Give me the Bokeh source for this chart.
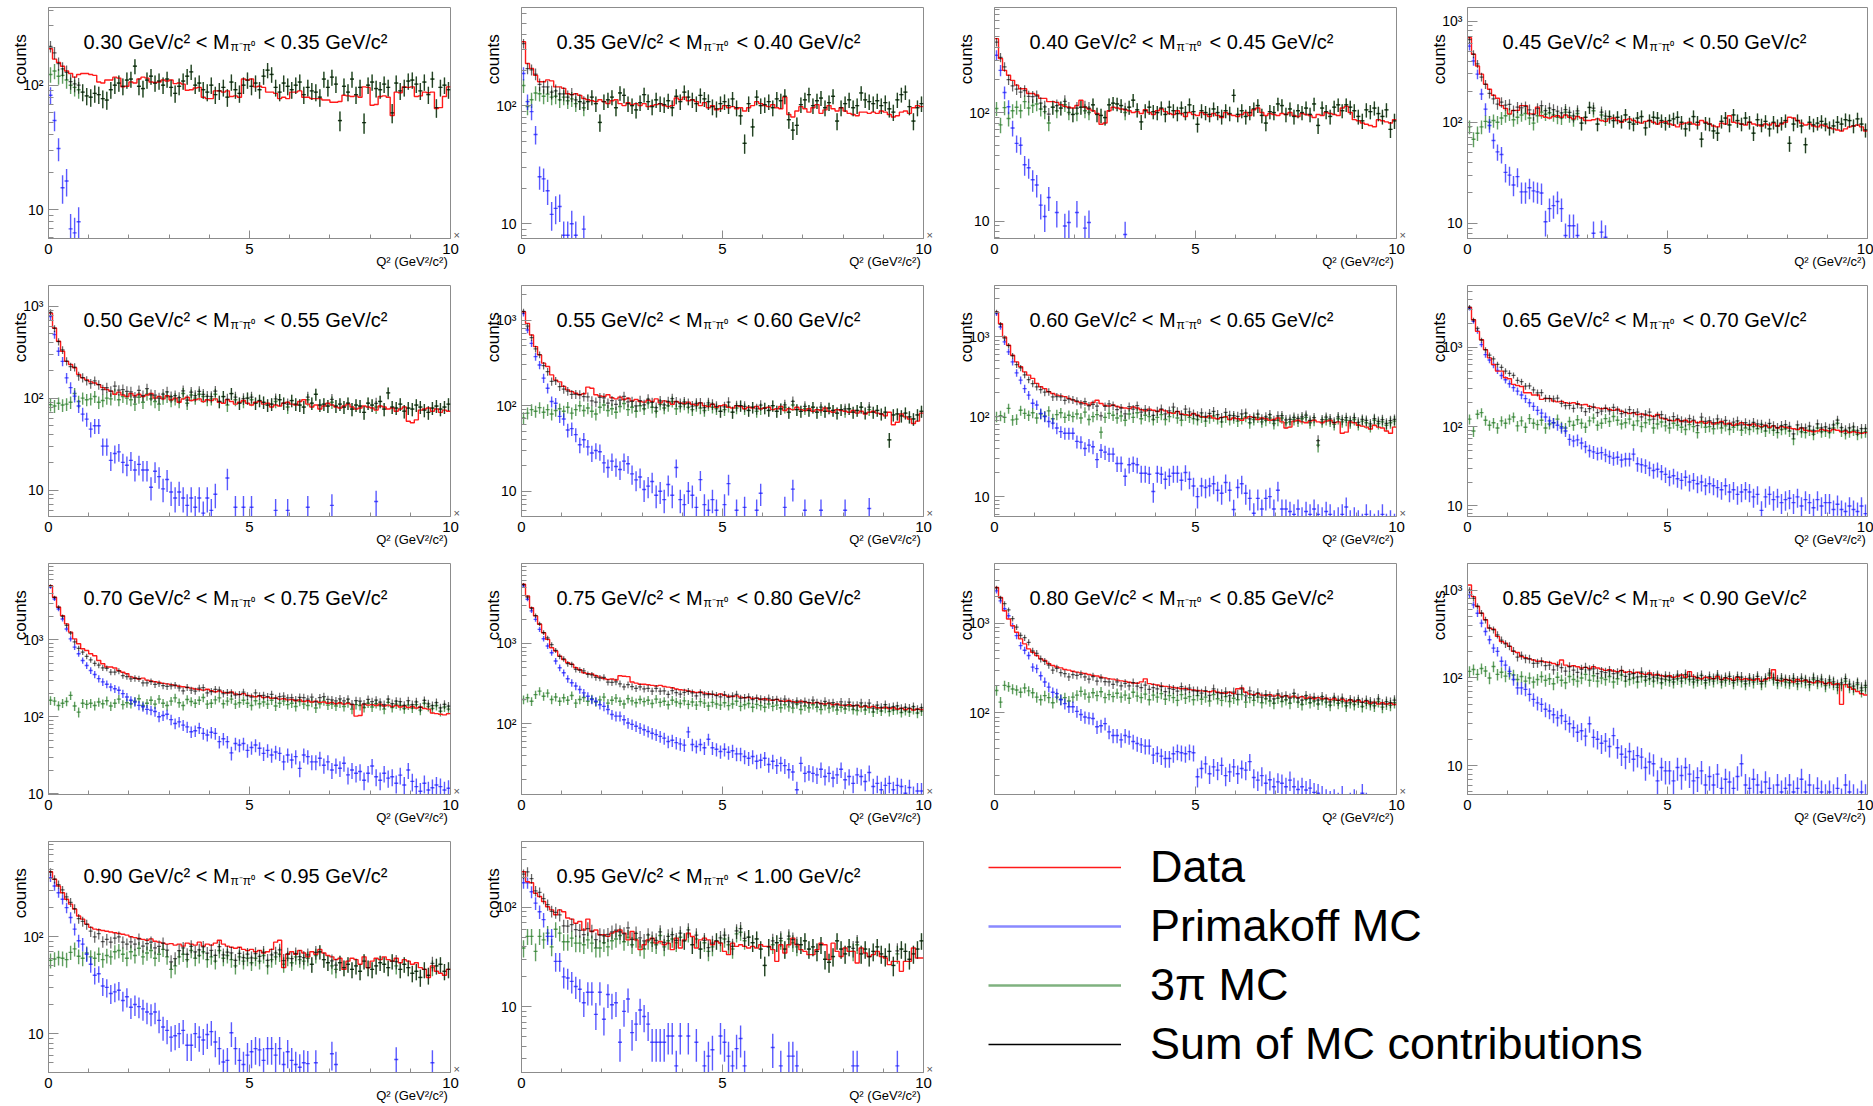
import numpy as np
from bokeh.plotting import figure
from bokeh.models import FixedTicker, Label, Legend, LegendItem, Range1d, Title
from bokeh.layouts import column, row
from bokeh.embed import file_html
from bokeh.resources import INLINE

FONT = "Liberation Sans"

MASS_EDGES = ["0.30", "0.35", "0.40", "0.45", "0.50", "0.55", "0.60", "0.65",
              "0.70", "0.75", "0.80", "0.85", "0.90", "0.95", "1.00"]
Y_LOW = [5.86, 7.5, 6.9, 7.1, 5.15, 5.08, 5.64, 7.36, 9.8, 13.1, 12.3, 4.68, 3.97, 2.19]
Y_HIGH = [421, 677, 930, 1362, 1679, 2535, 4365, 5998, 9800, 9900, 4645, 2023, 962, 457]
Y_TICKS = [1, 10, 100, 1000, 10000]
Y_TICK_TEXT = {1: "1", 10: "10", 100: "10\u00b2", 1000: "10\u00b3", 10000: "10\u2074"}
X_TICKS = [0, 5, 10]
X_MINOR = [1, 2, 3, 4, 6, 7, 8, 9]
X_TITLE = "Q\u00b2 (GeV\u00b2/c\u00b2)"
Y_TITLE = "counts"
LEGEND_LABELS = ["Data", "Primakoff MC", "3\u03c0 MC", "Sum of MC contributions"]

# ---- 0.30 - 0.35
DATA_030 = [196,162,152,142,130,124,116,122,124,124,
            122,120,106,104,110,110,116,114,97,98,
            106,104,112,116,114,106,105,106,110,108,
            110,103,104,102,91,92,95,96,80,78,
            78,90,90,88,90,81,82,80,112,110,
            112,97,98,96,88,88,86,78,80,78,
            88,88,90,80,80,78,78,78,76,76,
            73,73,74,83,82,81,82,80,97,96,
            69,70,81,82,80,57,88,87,97,96,
            97,81,82,88,87,88,65,66,81,97]
TPI_030 = [122,130,118,120,110,100,96,92,88,82,
           80,86,84,78,76,92,100,104,98,110,
           112,142,98,94,110,118,104,108,100,112,
           96,86,98,108,118,128,100,104,92,88,
           100,84,90,96,80,106,92,86,100,110,
           98,104,92,118,132,122,96,88,104,98,
           92,100,106,84,96,90,88,80,112,96,
           116,102,52,98,88,112,84,96,50,100,
           106,94,92,102,96,60,104,90,96,108,
           110,102,90,106,84,112,66,96,100,92]
PRIM_030 = [83,52,31,15,17,7,6.5,8]

# ---- 0.35 - 0.40
DATA_035 = [347,227,206,181,159,159,165,162,144,144,
            140,126,124,126,122,115,112,110,108,112,
            108,104,110,112,104,100,106,102,104,100,
            104,98,100,102,104,100,98,100,116,112,
            118,110,112,108,100,106,96,100,92,94,
            100,96,98,94,96,90,96,100,108,104,
            100,98,102,96,94,118,84,80,90,98,
            94,88,96,102,86,92,100,94,90,96,
            90,86,84,82,88,88,86,88,86,90,
            88,84,80,82,88,90,86,96,100,98]
TPI_035 = [148,98,112,128,126,120,125,118,120,112,
           118,110,114,104,108,96,108,118,104,72,
           108,112,118,96,128,122,104,100,92,106,
           124,108,98,112,104,102,110,96,120,108,
           130,118,112,104,122,114,108,98,94,104,
           108,100,114,96,82,48,104,66,118,100,
           102,108,96,114,110,120,76,62,68,102,
           112,124,100,110,116,96,106,120,74,96,
           104,112,96,100,128,112,108,104,110,100,
           106,94,88,112,124,130,98,74,96,104]
PRIM_035 = [187,108,89,57,25,24,19,12,13.5,14,8,8,10,8,0,9]

# ---- 0.40 - 0.45
DATA_040 = [480,315,245,221,198,179,166,166,150,150,
            145,135,135,126,126,124,118,114,112,110,
            116,130,112,108,104,98,78,80,104,112,
            110,108,106,104,100,102,98,106,100,96,
            104,108,102,98,96,104,98,92,100,96,
            94,100,96,92,98,94,90,100,96,94,
            92,96,100,94,106,110,100,94,98,96,
            94,98,96,100,94,92,98,96,94,90,
            96,94,100,98,96,94,110,114,100,86,
            84,80,78,76,74,86,84,82,80,86]
TPI_040 = [109,77,111,88,104,112,104,126,110,116,
           120,108,102,80,112,104,110,118,100,96,
           98,112,104,100,118,96,94,90,118,122,
           120,116,100,112,130,106,82,104,112,102,
           100,110,96,112,104,98,110,100,118,102,
           78,104,100,96,108,100,92,104,98,144,
           96,104,92,100,108,116,94,80,102,100,
           120,116,96,108,92,104,100,110,96,120,
           76,110,102,92,112,118,104,118,112,104,
           92,84,106,102,110,98,92,106,70,84]
PRIM_040 = [338,245,153,113,72,52,50,33,31,24,21.5,14,11,16.5,0,12,0,9,9.7,0,
            12,0,8.6,9.7,0,0,0,0,0,0,0,0,7.5]

# ---- 0.45 - 0.50
DATA_045 = [685,470,360,299,238,212,185,173,146,137,
            121,131,131,146,146,121,121,141,116,112,
            110,114,116,112,118,112,108,114,110,104,
            104,106,108,104,102,108,110,104,100,106,
            108,104,100,98,102,104,100,96,100,102,
            96,94,90,96,98,100,96,94,104,100,
            96,92,90,98,96,116,100,98,96,94,
            100,96,94,92,96,94,98,92,96,100,
            112,110,104,98,94,96,92,90,94,92,
            88,86,84,82,86,90,92,94,90,82]
TPI_045 = [90,68,78,90,102,100,104,100,110,116,
           120,106,112,118,122,110,98,116,126,120,
           124,118,112,110,126,116,106,122,98,112,
           140,130,96,118,108,114,104,112,102,118,
           100,96,110,114,88,104,112,110,104,98,
           104,108,112,100,86,96,114,100,68,98,
           96,82,78,102,110,94,118,104,96,110,
           100,78,106,94,102,86,100,92,98,104,
           62,96,104,92,60,100,94,98,102,96,
           88,92,100,96,106,104,92,108,96,84]
PRIM_045 = [566,403,299,190,135,93,66,51,48,32,30,24,29,20.5,20.5,22.5,21,20.5,20,10.4,
            14,15,16.5,14,7.6,9.5,9.5,7.6,0,0,0,8,0,8.2,7.3]

# ---- 0.50 - 0.55
DATA_050 = [841,579,415,323,251,232,214,181,166,158,
            150,146,140,130,124,119,110,116,108,104,
            112,106,110,104,108,112,100,104,98,106,
            96,100,90,98,102,94,96,98,92,96,
            94,98,90,88,96,92,86,90,94,88,
            84,90,92,86,88,80,84,82,88,90,
            86,84,92,96,86,80,84,76,82,88,
            84,80,78,82,86,80,76,78,82,80,
            78,74,82,80,76,78,72,76,80,56,
            54,58,74,76,78,72,76,70,74,72]
TPI_050 = [85,82,88,84,86,90,112,92,100,96,
           98,104,90,94,100,98,110,96,104,100,
           96,86,102,90,110,98,92,86,100,104,
           94,98,92,112,88,108,100,110,104,96,
           98,110,92,104,84,112,96,88,92,100,
           96,88,94,90,84,86,92,96,88,80,
           94,86,84,80,96,88,110,84,86,82,
           90,82,86,80,88,76,84,82,70,88,
           84,80,92,76,114,80,78,86,72,78,
           76,84,80,74,70,78,82,76,80,86]
PRIM_050 = [773,490,323,251,166,130,105,82,67,59,
            46,50,50,30,30,21,25,26,20,18.6,
            21,16.5,19,16.5,16.5,10.7,16,14,10.3,13,
            9.5,8.2,9.5,8.2,6.8,8.2,6.5,8.2,5.6,8.2,
            6,9,0,0,13.5,0,6.5,0,6.5,0,
            6.5,0,0,0,0,0,6,0,0,6,
            0,0,0,0,6.5,0,0,0,0,0,
            6.8,0,0,0,0,0,0,0,0,0,
            0,7.5]

# ---- 0.55 - 0.60
DATA_055 = [1250,915,670,490,392,314,287,229,199,190,
            168,153,146,140,134,138,165,160,134,130,
            128,134,124,120,126,118,122,114,118,112,
            110,116,112,120,108,114,110,104,112,108,
            106,110,104,102,108,100,98,104,96,100,
            102,96,94,100,98,92,96,94,98,92,
            94,96,90,92,98,88,92,90,96,90,
            88,92,86,90,88,94,86,84,90,88,
            86,84,88,82,86,80,84,86,82,80,
            76,84,60,64,80,74,70,62,66,82]
TPI_055 = [72,82,90,86,95,84,90,80,88,92,
           86,96,82,90,100,88,94,86,80,96,
           102,88,92,84,98,106,90,96,86,100,
           92,108,96,86,104,94,100,112,92,98,
           104,96,90,100,94,88,102,96,92,86,
           90,98,84,94,100,92,88,96,86,92,
           94,88,100,86,92,96,84,102,90,86,
           92,88,96,84,90,86,94,88,82,90,
           86,92,84,88,96,82,90,84,88,80,
           84,40,78,80,76,82,74,70,78,86]
PRIM_055 = [1195,766,535,374,299,210,160,112,107,75,
            70,52,54,46,35,40,33,28,30,29,
            21.5,19,22.5,19.5,18,22.5,21,16,13.6,14.7,
            10.5,11.5,13,9,10,8,12,9,19,8,
            7,10,9,6.5,13.7,7,6,8,6,0,
            7,12.3,0,6,0,6.5,0,0,6,9.5,
            0,0,0,0,0,6.5,0,10.6,0,0,
            6,0,0,0,6,0,0,0,0,0,
            6,0,0,0,0,0,6.3]

# ---- 0.60 - 0.65
DATA_060 = [2030,1455,990,781,587,484,420,363,331,301,
            261,237,224,205,195,186,182,178,169,162,
            154,150,146,140,150,160,146,138,136,140,
            134,130,128,126,132,128,122,118,124,120,
            116,122,118,112,110,116,108,106,104,110,
            104,100,98,102,96,94,98,100,92,96,
            94,90,96,100,98,92,96,94,90,92,
            96,86,72,74,88,90,86,84,88,90,
            86,84,88,90,84,86,62,64,86,84,
            78,76,74,70,78,74,72,66,62,74]
TPI_060 = [100,103,98,127,91,93,120,110,104,112,
           96,108,102,118,94,106,112,98,104,100,
           108,96,114,92,100,106,64,98,110,104,
           96,102,90,108,98,112,94,104,100,92,
           98,106,92,100,112,96,90,104,98,94,
           92,98,88,96,102,94,86,98,92,96,
           88,94,100,84,92,98,86,90,96,82,
           90,96,84,86,92,88,94,98,84,90,
           44,86,92,88,80,94,86,90,84,92,
           80,88,84,76,90,82,86,78,84,88]
PRIM_060 = [1940,1320,860,646,484,353,286,224,186,147,
            140,110,100,87,83,72,65,62,62,62,
            49,48,40,44,42,29,38,36,34,34,
            26,26,18,25,26,25,19.6,19.6,19,11.6,
            19.6,19,16.5,18,19.6,19.6,16,20,16.5,13.6,
            10,13.6,13,13.6,14.5,12,11,15,12,6.9,
            13,14.5,11,9.5,6.2,9.5,7,9.5,10,7,
            12,7,7,6.5,6,7,5.5,6.5,6,7,
            6,5.5,6.5,6,5,5.5,6,7.4,5,5.5,
            5,4.5,6,5,4.5,5,6,4.5,5,4.5]

# ---- 0.65 - 0.70
DATA_065 = [3180,2220,1585,1245,933,734,605,500,500,412,
            400,340,330,320,267,267,250,250,220,225,
            225,210,205,208,200,196,200,194,188,190,
            180,176,172,168,170,164,160,166,156,150,
            146,150,142,144,140,138,134,142,128,124,
            120,118,122,116,120,114,118,112,116,110,
            114,108,112,116,108,110,104,108,112,106,
            104,108,102,100,104,98,102,96,100,98,
            96,94,92,96,90,88,86,88,92,90,
            88,92,90,86,88,84,86,84,82,84]
TPI_065 = [124,88,143,150,120,104,112,96,118,110,
           124,132,102,118,98,126,110,106,120,96,
           108,112,124,100,96,116,104,122,110,98,
           118,128,104,110,126,116,134,120,108,112,
           124,104,118,100,112,122,96,108,114,102,
           96,110,104,98,92,106,100,84,112,98,
           100,94,108,96,102,92,98,104,90,96,
           92,100,94,98,88,96,90,84,92,94,
           88,70,92,86,84,90,80,96,86,88,
           84,96,110,88,82,86,90,80,84,86]
PRIM_065 = [3090,2120,1585,1080,807,690,600,510,440,390,
            346,310,280,250,225,200,180,160,148,132,
            118,112,104,96,88,69,66,68,62,56,
            50,48,46,47,44,42,40,41,38,39,
            39,45,34,33,32,30,28,29,27,25,
            23,24,22,21,23,20,21,19,20,18,
            19,18,17,16,18,15,16,14,15,16,
            15,13,14,8.8,13,14,12,13,11,12,
            12.5,11,13,10,12,11,9.5,12,10,11,
            11,9,10.5,9,8.5,10,9,8.5,10,8]

# ---- 0.70 - 0.75
DATA_070 = [5040,3565,2650,2060,1610,1258,1030,888,765,728,
            659,620,540,490,444,444,430,398,380,363,
            330,320,310,318,300,292,285,280,272,268,
            262,255,250,246,240,236,230,226,222,228,
            218,212,216,208,204,210,198,194,200,190,
            186,182,188,178,180,174,176,170,172,166,
            168,162,166,158,162,156,160,154,156,150,
            154,148,152,146,150,144,102,104,146,142,
            144,140,146,138,142,136,140,134,138,132,
            136,130,134,128,126,112,110,108,106,110]
TPI_070 = [164,160,140,150,158,190,138,115,150,145,
           150,140,156,148,162,138,150,170,144,152,
           148,160,172,140,150,164,146,170,150,140,
           160,176,152,140,168,158,150,164,178,146,
           150,166,176,148,160,170,146,152,164,150,
           140,162,148,156,146,164,138,150,160,144,
           150,136,158,146,140,154,130,148,160,142,
           146,138,150,136,152,126,144,140,132,150,
           134,148,140,126,154,132,146,140,128,142,
           130,144,122,150,136,128,140,118,134,126]
PRIM_070 = [4850,3390,2510,1860,1380,1030,805,660,540,465,
            400,355,313,284,265,244,232,221,200,181,
            164,156,141,135,125,122,117,100,104,108,
            92,82,86,78,74,64,66,72,61,58,
            63,61,47.6,52,47.6,34,45,43,45,36.7,
            40,43,39,33.5,36.7,32,35,33.5,26,32,
            27.5,30.4,21.4,32,30.4,26,26,29,23.5,26,
            20.4,23.5,21.5,25,17.6,20.4,18.5,19.5,15,18.5,
            23,16.7,15,18.5,16,16.7,13.7,17.5,13,20.4,
            14.5,12.4,10.8,13.7,11.2,12,13,12.4,11.2,11.8]

# ---- 0.75 - 0.80
DATA_075 = [5470,3900,2790,2200,1730,1360,1122,884,803,695,
            631,574,550,497,470,430,420,415,395,380,
            365,355,360,350,395,390,385,330,320,310,
            310,305,300,295,300,290,285,280,270,265,
            262,255,250,245,248,240,236,232,228,234,
            225,220,218,222,214,210,212,206,208,200,
            204,198,196,200,192,190,194,188,184,190,
            186,182,180,184,178,176,180,172,176,170,
            168,172,166,170,162,166,160,164,158,156,
            160,154,158,152,156,150,154,148,152,150]
TPI_075 = [200,210,190,230,254,220,240,200,215,190,
           210,196,224,180,200,212,190,204,186,198,
           214,180,196,208,190,176,204,192,182,200,
           188,196,178,202,184,190,172,196,186,178,
           192,174,186,170,188,180,166,184,176,170,
           182,168,176,190,164,172,178,160,174,168,
           160,176,164,170,158,172,162,156,176,150,
           166,158,172,160,150,168,156,162,148,160,
           152,164,150,146,160,148,156,140,152,144,
           156,142,148,150,138,146,140,150,136,144]
PRIM_075 = [5210,3550,2540,1995,1497,1145,929,765,603,497,
            430,362,323,294,266,242,220,200,190,172,
            164,150,130,124,124,112,102,98,93,88,
            84,80,76,73,69.5,66,60,62,58,56,
            54,79,55,52,55,50,64,50,48,45,
            48,44,46,42,42,39,37,39,34,35,
            37,31,34,30,32,30,26.6,25,15,32,
            24,25,24,23,27,22,24,21,23,27,
            20,22,18,23,22,19,24.6,16.5,18,15,
            17,18,15,17,16.5,13.6,16,13,14.5,14.5]

# ---- 0.80 - 0.85
DATA_080 = [2510,1945,1380,1117,940,794,670,589,518,476,
            437,401,384,353,338,325,318,305,300,292,
            285,280,275,268,262,258,250,246,240,238,
            232,228,225,220,216,214,222,240,212,208,
            205,200,198,195,192,190,186,188,182,180,
            178,176,174,172,176,170,168,166,170,164,
            186,190,170,162,160,164,158,156,160,154,
            158,152,156,150,154,148,152,146,150,144,
            148,144,146,140,144,138,142,136,140,134,
            138,132,136,128,132,126,130,126,128,124]
TPI_080 = [178,132,203,197,185,180,170,190,176,168,
           150,140,156,148,130,150,142,148,136,150,
           158,174,162,150,168,156,172,148,160,152,
           166,150,158,146,170,154,148,162,140,158,
           150,164,142,156,148,138,160,146,152,140,
           156,142,150,136,160,144,138,152,134,146,
           140,160,132,148,138,150,130,144,136,128,
           146,134,140,128,150,132,124,142,130,136,
           126,140,132,122,138,128,134,120,130,124,
           132,118,128,124,120,134,116,126,122,130]
PRIM_080 = [2300,1780,1450,1213,940,728,564,500,437,324,
            312,260,221,194,170,164,140,127,117,117,
            104,96,90,88,86.5,70,72,76,61.5,56,
            56,50,56,54,48,45.6,44,42.6,42.6,33.8,
            35.3,33,31,31,35,37,36,35,37,36,
            19.4,24,27,21,25,23,26,20,22,25,
            21,24,23,28.6,19,17.8,20,16.4,18,15,
            17,16.4,15,17.8,15,14,15,13.8,14.5,13,
            12.7,12,11,10.5,11,10,12,9.5,10,11,
            9,12.7,10,9,8.5,9.5,9,8,8.5,9]

# ---- 0.85 - 0.90
DATA_085 = [1150,847,653,548,461,370,360,298,261,250,
            229,201,195,176,170,165,160,155,156,152,
            150,146,142,160,140,136,138,134,130,132,
            128,134,130,126,122,124,120,118,122,116,
            118,114,116,112,110,114,108,110,106,104,
            106,102,104,108,102,118,104,100,98,102,
            100,98,104,96,100,98,94,102,96,98,
            96,94,98,92,96,100,124,94,92,96,
            94,90,96,92,94,90,88,92,90,86,
            88,84,86,50,84,78,74,70,66,64]
TPI_085 = [119,125,110,128,120,100,135,110,116,105,
           112,108,96,104,92,100,90,96,104,94,
           98,86,102,94,88,104,96,92,100,110,
           94,106,92,100,96,104,90,98,108,92,
           96,100,90,104,94,98,92,100,88,96,
           94,90,98,92,100,96,90,94,98,88,
           96,92,100,90,94,98,88,96,92,86,
           94,90,98,86,92,108,96,88,94,90,
           88,94,86,92,90,84,96,88,92,82,
           90,86,78,84,92,80,76,84,72,78]
PRIM_085 = [887,682,548,422,339,273,219,201,155,140,
            119,96,77,77,74,65,57,52,50,44,
            42,38,35,37,32,30,27,24,25,21.7,
            30,21,20,18,19,16.5,22,16,13.5,12.5,
            14.5,11.8,13,12.5,9.5,11,10.5,6.7,9.5,8.7,
            8.7,6.7,9.5,7.7,9.5,8,6.7,7.3,8.7,6,
            7.5,6,8,5.5,7,6.5,5.5,7.5,10.5,6,
            5.5,7,6,5,6.5,5.5,4.5,6,5,5.5,
            6,5,5.5,7,5,6,4.5,5.5,5,4.5,
            5,4.5,5.5,4,6,5,4.5,4,5,4.5]

# ---- 0.90 - 0.95
DATA_090 = [469,392,334,285,244,217,193,164,152,135,
            125,120,118,116,114,112,110,108,106,104,
            100,98,96,94,92,95,90,88,86,84,
            85,82,84,80,86,84,82,88,80,84,
            82,86,92,84,80,78,76,78,74,72,
            74,70,72,68,70,74,88,92,48,66,
            70,66,72,68,62,70,66,74,68,64,
            62,58,60,46,56,60,58,52,62,48,
            56,60,58,62,58,56,60,54,58,56,
            52,54,48,46,38,50,44,42,40,46]
TPI_090 = [57,59,61,60,58,69,75,63,60,68,
           62,60,66,58,64,62,70,72,66,60,
           70,64,76,62,68,72,60,66,74,62,
           46,50,62,66,58,72,60,64,70,58,
           62,56,72,60,64,58,50,62,56,60,
           54,60,56,64,50,58,62,66,52,60,
           54,62,58,56,60,52,64,70,58,54,
           50,46,54,48,52,46,50,44,56,48,
           46,50,54,52,48,56,50,46,52,48,
           42,44,38,46,40,48,50,52,44,46]
PRIM_090 = [408,334,285,244,200,158,120,91,84,66,
            52,40,41.5,31,30,26,27,28,22,24,
            18.7,20,19,18,16.7,16,16.7,13.7,11.7,10.8,
            9.2,9.5,10,10.8,7.6,7.6,10,9.2,8.6,9.8,
            10.5,8.2,7,5.1,5.3,10.2,7,5.3,4.8,6,
            6.5,7,6.8,5.3,7,7,6,7,4.8,6.5,
            5.3,4.8,4.5,5,4.9,0,5,0,0,0,
            6.2,4.8,0,0,0,0,0,0,0,0,
            0,0,0,0,0,0,5.4,0,0,0,
            0,0,0,0,0,5,0,0,0,0]

# ---- 0.95 - 1.00
DATA_095 = [227,180,176,138,128,114,101,94,84,94,
            90,78,76,69,72,59,76,57,59,53,
            53,51,55,57,59,55,47,57,47,37.5,
            42,47,49,43.6,45.3,42,43.6,37.5,49,38.9,
            47,55,50.8,38.9,47,49,47,42,45.3,43.6,
            36,33.4,43.6,40.4,42,40.4,38.9,40.4,38.9,42,
            40.4,40.4,37.5,28.6,42,34.7,42,49,42,37.5,
            36,33.4,33.4,37.5,43.6,42,29.8,43.6,36,32,
            38.9,36,36,27.5,38.9,34.7,32,33.4,36,32,
            30.9,26.5,28.6,28.6,22.7,28.6,28.6,38.9,30.9,30.9]
TPI_095 = [38.9,51,51,36,51,47,55,40,60,55,
           45,45,49,43.6,43.6,42,47,43.6,38.9,38.9,
           44,40,46,48,52,45,50,42,48,40,
           38,46,44,42,52,40,46,48,44,50,
           46,54,42,48,38,44,36,40,46,44,
           48,42,38,54,56,46,50,44,48,38,
           26,40,42,44,46,38,48,44,40,42,
           46,38,40,36,42,30,28,32,46,38,
           34,40,36,42,34,38,32,36,40,34,
           32,36,26,34,38,36,30,34,38,46]
PRIM_095 = [176,176,143,110,90,75,51,51,28.6,28.6,
            20,19.5,18,16,15,11,14,14,8.4,14,
            7.5,13.3,10.5,11,4.4,9,12,5.5,6.7,9.3,
            8,6.7,4.4,4.4,4.4,4.4,5.1,5.1,2.55,5.1,
            0,5.1,0,4.4,0,2.55,3.2,3.7,0,5.1,
            4.4,3.2,2.55,3.8,4.8,2.55,0,0,0,0,
            0,0,3.9,0,2.55,0,3.2,3.2,2.55,0,
            0,0,0,0,0,0,0,0,0,0,
            0,0,2.55,2.55,0,0,0,0,0,0,
            0,0,0,2.55,0,0,0,0,0,0]

DATA = [DATA_030, DATA_035, DATA_040, DATA_045, DATA_050, DATA_055, DATA_060,
        DATA_065, DATA_070, DATA_075, DATA_080, DATA_085, DATA_090, DATA_095]
TPI = [TPI_030, TPI_035, TPI_040, TPI_045, TPI_050, TPI_055, TPI_060,
       TPI_065, TPI_070, TPI_075, TPI_080, TPI_085, TPI_090, TPI_095]
PRIM = [PRIM_030, PRIM_035, PRIM_040, PRIM_045, PRIM_050, PRIM_055, PRIM_060,
        PRIM_065, PRIM_070, PRIM_075, PRIM_080, PRIM_085, PRIM_090, PRIM_095]

N_BINS = 100
Q2_LO, Q2_HI = 0.0, 10.0

RED = "#ff1a1a"
BLUE = "#1414ff"
GREEN = "#2a7d2a"
BLACK = "#000000"
AXIS_GRAY = "#8c8c8c"
EM = "\u2003"
EN = "\u2002"


def full(vals):
    out = np.zeros(N_BINS)
    v = np.asarray(vals, dtype=float)[:N_BINS]
    out[:len(v)] = v
    return out


def stat_err(v):
    return 0.55 * np.power(np.maximum(v, 0.0), 0.72)


def crosses(p, xc, half, v, e, color, alpha, lw):
    m = v > 0
    xc, v, e = xc[m], v[m], e[m]
    x0 = np.concatenate([xc, xc - half])
    x1 = np.concatenate([xc, xc + half])
    y0 = np.concatenate([v - e, v])
    y1 = np.concatenate([v + e, v])
    p.segment(x0=x0, y0=y0, x1=x1, y1=y1, line_color=color, line_alpha=alpha, line_width=lw)


def label(p, text, x, y, xo, yo, size):
    p.add_layout(Label(x=x, y=y, x_offset=xo, y_offset=yo, text=text, text_font=FONT,
                       text_font_size=size, text_align="left", text_baseline="alphabetic",
                       text_color="black"))


def panel(k, r, c):
    first_col = c == 0
    last_col = c == 3
    first_row = r == 0
    last_row = r == 3
    b_left = 48 if first_col else 40
    b_right = 6 if last_col else 31
    frame_w = 400 if last_col else 402
    b_top = 7 if first_row else 0
    b_bottom = 34 if last_row else 47
    w = b_left + frame_w + b_right
    h = b_top + 231 + b_bottom
    p = figure(width=w, height=h, y_axis_type="log",
               x_range=Range1d(Q2_LO, Q2_HI), y_range=Range1d(Y_LOW[k], Y_HIGH[k]),
               output_backend="svg", toolbar_location=None,
               min_border_left=b_left, min_border_right=b_right,
               min_border_top=b_top, min_border_bottom=b_bottom)
    p.background_fill_color = "white"
    p.border_fill_color = "white"
    p.outline_line_color = AXIS_GRAY
    p.xgrid.grid_line_color = None
    p.ygrid.grid_line_color = None

    xa = p.xaxis[0]
    ya = p.yaxis[0]
    xa.ticker = FixedTicker(ticks=X_TICKS, minor_ticks=X_MINOR)
    minors = [m * d for d in (1, 10, 100, 1000) for m in range(2, 10)]
    ya.ticker = FixedTicker(ticks=Y_TICKS, minor_ticks=minors)
    ya.major_label_overrides = Y_TICK_TEXT
    for ax, maj, mnr, fs in ((xa, 8, 4, "15px"), (ya, 10, 5, "14px")):
        ax.axis_line_color = AXIS_GRAY
        ax.major_tick_line_color = AXIS_GRAY
        ax.minor_tick_line_color = AXIS_GRAY
        ax.major_tick_in = maj
        ax.major_tick_out = 0
        ax.minor_tick_in = mnr
        ax.minor_tick_out = 0
        ax.major_label_text_font = FONT
        ax.major_label_text_font_size = fs
        ax.major_label_text_color = "black"
        ax.major_label_standoff = 5
        ax.axis_label_text_font = FONT
        ax.axis_label_text_font_style = "normal"
        ax.axis_label_text_color = "black"

    # axis titles: right-aligned Q2 title, top-aligned "counts" (padded with em spaces)
    xa.axis_label = EM * 25 + X_TITLE
    xa.axis_label_text_font_size = "13px"
    xa.axis_label_standoff = -3
    ya.axis_label = EM * 7 + EN + Y_TITLE
    ya.axis_label_text_font_size = "17px"
    ya.axis_label_standoff = -10

    if not last_col:
        p.add_layout(Title(text="\u00d7", align="right", text_font=FONT, text_font_size="11px",
                           text_font_style="normal", text_color="#555555",
                           standoff=0, offset=0), "right")

    edges = np.linspace(Q2_LO, Q2_HI, N_BINS + 1)
    centers = 0.5 * (edges[:-1] + edges[1:])
    half = 0.5 * (edges[1] - edges[0])

    data = full(DATA[k])
    tpi = full(TPI[k])
    prim = full(PRIM[k])
    total = tpi + prim
    e_t = stat_err(tpi)
    e_p = stat_err(prim)
    e_s = np.sqrt(e_t ** 2 + e_p ** 2)

    crosses(p, centers, half, tpi, e_t, GREEN, 0.75, 1.4)
    crosses(p, centers, half, prim, e_p, BLUE, 0.7, 1.4)
    p.step(x=edges, y=np.append(data, data[-1]), mode="after", line_color=RED, line_width=1.4)
    crosses(p, centers, half, total, e_s, BLACK, 0.6, 1.25)

    lo, hi = MASS_EDGES[k], MASS_EDGES[k + 1]
    label(p, lo + " GeV/c\u00b2 < M", 0, Y_HIGH[k], 35, -34, "20px")
    label(p, "\u03c0\u207b\u03c0\u2070", 0, Y_HIGH[k], 182, -39, "12px")
    label(p, "< " + hi + " GeV/c\u00b2", 0, Y_HIGH[k], 215, -34, "20px")
    return p


def legend_fig():
    p = figure(width=919, height=265, x_range=Range1d(0, 1), y_range=Range1d(0, 1),
               x_axis_location=None, y_axis_location=None,
               output_backend="svg", toolbar_location=None,
               min_border_left=34, min_border_top=0, min_border_right=0, min_border_bottom=0)
    p.outline_line_color = None
    p.grid.visible = False
    styles = [(RED, 1.0, 1.3), (BLUE, 0.5, 2.5), (GREEN, 0.6, 2.5), (BLACK, 1.0, 1.3)]
    rs = [p.line(x=[2, 3], y=[2, 3], line_color=col, line_alpha=a, line_width=lw)
          for col, a, lw in styles]
    lg = Legend(items=[LegendItem(label=LEGEND_LABELS[i], renderers=[rs[i]]) for i in range(4)],
                location="top_left", orientation="vertical", margin=0, padding=0, spacing=7,
                glyph_width=133, glyph_height=52, label_height=52, label_standoff=29,
                label_text_font=FONT, label_text_font_size="45px", label_text_color="black",
                border_line_color=None, background_fill_alpha=0)
    p.add_layout(lg)
    return p


rows = []
k = 0
for r in range(4):
    items = []
    for c in range(4):
        if k < len(DATA):
            items.append(panel(k, r, c))
            k += 1
    if r == 3:
        items.append(legend_fig())
    rows.append(row(*items))

layout = column(*rows)
open("out.html", "w").write(file_html(layout, INLINE))
